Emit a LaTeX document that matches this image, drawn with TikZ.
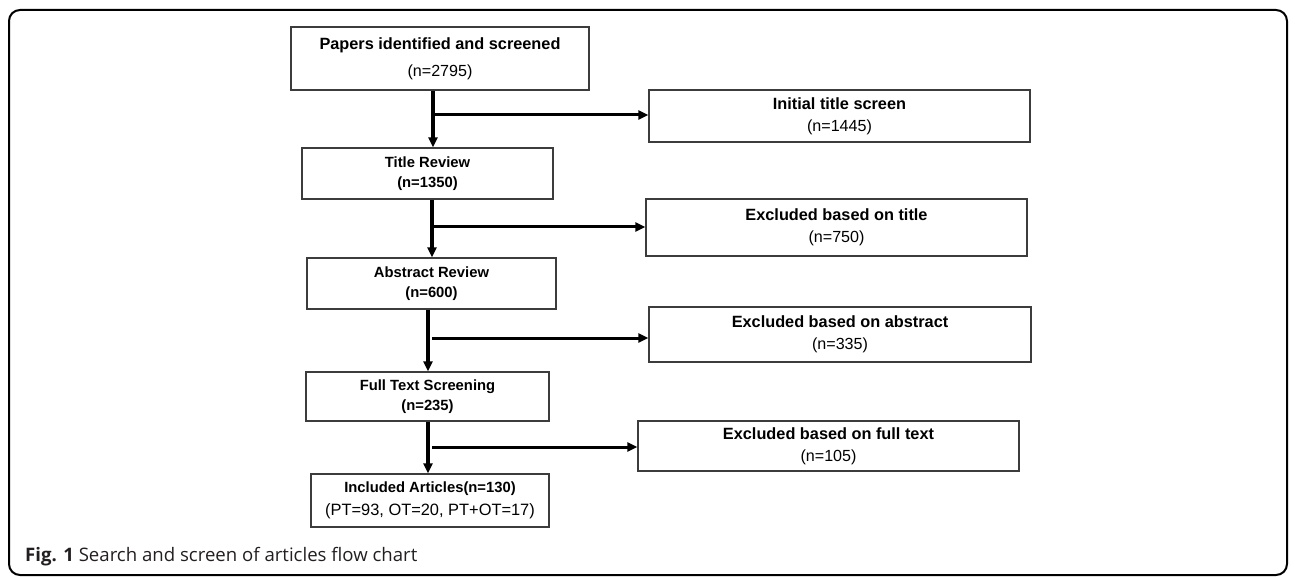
\documentclass[tikz,border=0pt]{standalone}
\usepackage{fontspec}
\setmainfont{Liberation Sans}
\newfontfamily\capfont{Open Sans}
\usetikzlibrary{arrows.meta,calc}
\definecolor{boxline}{HTML}{3C3C3C}
\definecolor{captxt}{HTML}{231F20}
\tikzset{
  stagebox/.style={draw=boxline, line width=1.2pt, rectangle, align=center, inner sep=0pt, text=black},
  bigfont/.style={font=\fontsize{16.3}{22}\selectfont\bfseries},
  smallfont/.style={font=\fontsize{14.8}{20}\selectfont\bfseries},
  flow/.style={line width=3.3pt, draw=black, -{Triangle[length=10pt,width=9pt]}},
  branch/.style={line width=3pt, draw=black, -{Triangle[length=10pt,width=9pt]}},
}
\newcommand{\reglinebig}[1]{{\fontsize{16.1}{22}\selectfont\mdseries #1}}
\begin{document}
\begin{tikzpicture}[x=1pt,y=-1pt]
\useasboundingbox (0,0) rectangle (1295,577);
% outer frame
\draw[line width=2pt, rounded corners=11pt] (9,10) rectangle (1287,575);

% left column
\node[stagebox, bigfont, minimum width=298pt, minimum height=63pt, font=\fontsize{16.3}{27}\selectfont\bfseries] (b1) at (440,58.5)
  {Papers identified and screened\\\reglinebig{(n=2795)}};
\node[stagebox, smallfont, minimum width=251pt, minimum height=51pt] (b3) at (427.5,173.5)
  {Title Review\\(n=1350)};
\node[stagebox, smallfont, minimum width=249pt, minimum height=51pt] (b5) at (431.5,283.5)
  {Abstract Review\\(n=600)};
\node[stagebox, smallfont, minimum width=243pt, minimum height=49pt] (b7) at (427.5,396.5)
  {Full Text Screening\\(n=235)};
\node[stagebox, minimum width=238pt, minimum height=53pt, font=\fontsize{14.8}{23}\selectfont\bfseries] (b9) at (430,500.5)
  {Included Articles(n=130)\\{\fontsize{16.4}{23}\selectfont\mdseries (PT=93, OT=20, PT+OT=17)}};

% right column
\node[stagebox, bigfont, minimum width=381pt, minimum height=52pt] (b2) at (839.5,116)
  {Initial title screen\\\reglinebig{(n=1445)}};
\node[stagebox, bigfont, minimum width=381pt, minimum height=57pt] (b4) at (836.5,227.5)
  {Excluded based on title\\\reglinebig{(n=750)}};
\node[stagebox, bigfont, minimum width=382pt, minimum height=55pt] (b6) at (840,334.5)
  {Excluded based on abstract\\\reglinebig{(n=335)}};
\node[stagebox, bigfont, minimum width=381pt, minimum height=50pt] (b8) at (828.5,446)
  {Excluded based on full text\\\reglinebig{(n=105)}};

% junction coordinates
\coordinate (j1) at (433,115);
\coordinate (j2) at (432,227);
\coordinate (v3) at (428,338);
\coordinate (j3) at (432,338);
\coordinate (v4) at (428,447);
\coordinate (j4) at (432,447);

% vertical flow
\draw[flow] (j1 |- b1.south) -- (j1 |- b3.north);
\draw[flow] (j2 |- b3.south) -- (j2 |- b5.north);
\draw[flow] (v3 |- b5.south) -- (v3 |- b7.north);
\draw[flow] (v4 |- b7.south) -- (v4 |- b9.north);

% branches
\draw[branch] (j1) -- (b2.west |- j1);
\draw[branch] (j2) -- (b4.west |- j2);
\draw[branch] (j3) -- (b6.west |- j3);
\draw[branch] (j4) -- (b8.west |- j4);

% caption
\node[anchor=base west, inner sep=0pt, text=captxt, font=\capfont\fontsize{18.6}{21}\selectfont] (cap) at (25,561)
  {\textbf{Fig. 1} Search and screen of articles flow chart};
\end{tikzpicture}
\end{document}
